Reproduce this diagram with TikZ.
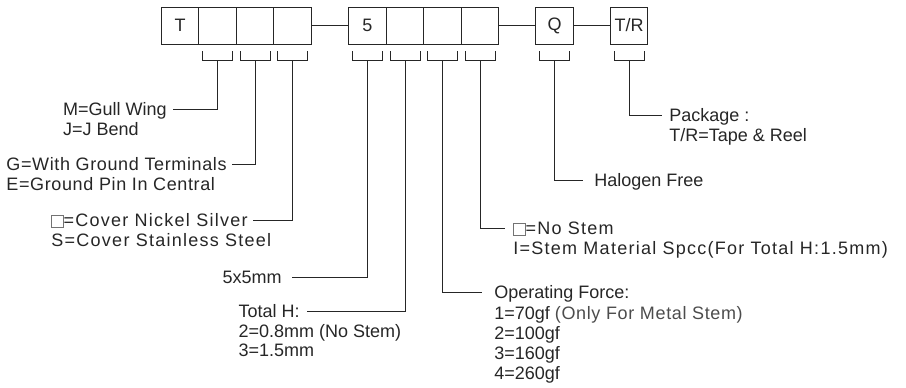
\documentclass[tikz,border=0pt]{standalone}
\usepackage{fontspec}
\setmainfont{Liberation Sans}
\newfontfamily\widefont{Liberation Sans}[LetterSpace=7]
\newfontfamily\halfwidefont{Liberation Sans}[LetterSpace=3.5]
\usetikzlibrary{positioning}
\newcommand\blankbox{{\color{black!55}\fboxsep=0pt\fboxrule=0.6pt\fbox{\rule{0pt}{11pt}\hspace{11pt}}}}
\tikzset{
  cell/.style={draw, minimum width=37.5pt, minimum height=37pt, inner sep=0pt, outer sep=0pt},
  lbl/.style={inner xsep=0pt, inner ysep=0pt, text height=13pt, text depth=0pt},
  sub/.style={inner sep=0pt, align=left, anchor=north west},
}
\begin{document}
\begin{tikzpicture}[x=1pt, y=-1pt, line width=0.8pt, color=black!85, font=\fontsize{18}{19}\selectfont]
  \useasboundingbox (0,0) rectangle (906,388);
  \node[cell] (b1) at (180,25.5) {T};
  \node[cell, right=0pt of b1] (b2) {};
  \node[cell, right=0pt of b2] (b3) {};
  \node[cell, right=0pt of b3] (b4) {};
  \node[cell, right=37.5pt of b4] (b5) {5};
  \node[cell, right=0pt of b5] (b6) {};
  \node[cell, right=0pt of b6] (b7) {};
  \node[cell, right=0pt of b7] (b8) {};
  \node[cell, right=37pt of b8] (bq) {Q};
  \node[cell, right=37pt of bq] (br) {T/R};
  \draw (b4) -- (b5);
  \draw (b8) -- (bq);
  \draw (bq) -- (br);
  \foreach \b in {b2,b3,b4,b5,b6,b7,b8,bq,br}{
    \draw ([shift={(-15,7)}]\b.south) -- ++(0,9) -- ++(30,0) -- ++(0,-9);
    \coordinate (k\b) at ([shift={(0,16)}]\b.south);
  }
  \node[lbl, anchor=east] (mw) at (167,109) {M=Gull Wing};
  \node[sub] (jb) at ([yshift=-6pt]mw.south west) {J=J Bend};
  \node[lbl, anchor=east] (gw) at (227,164) {\halfwidefont G=With Ground Terminals};
  \node[sub] (gp) at ([yshift=-6pt]gw.south west) {\halfwidefont E=Ground Pin In Central};
  \node[lbl, anchor=east] (cn) at (248,220) {\blankbox\widefont=Cover Nickel Silver};
  \node[sub] (cs) at ([yshift=-6pt]cn.south west) {\widefont S=Cover Stainless Steel};
  \node[lbl, anchor=east] (sz) at (282,277) {5x5mm};
  \node[lbl, anchor=east] (th) at (300,311) {Total H:};
  \node[sub] (tv) at ([yshift=-6pt]th.south west) {2=0.8mm (No Stem)\\3=1.5mm};
  \node[lbl, anchor=west] (pk) at (669,115) {Package :};
  \node[sub] (tr) at ([yshift=-6pt]pk.south west) {T/R=Tape \& Reel};
  \node[lbl, anchor=west] (hf) at (594,180) {Halogen Free};
  \node[lbl, anchor=west] (ns) at (513,228) {\blankbox\widefont=No Stem};
  \node[sub] (sm) at ([yshift=-6pt]ns.south west) {\widefont I=Stem Material Spcc(For Total H:1.5mm)};
  \node[lbl, anchor=west] (of) at (494,292) {Operating Force:};
  \node[sub, font=\fontsize{18}{20}\selectfont] (ov) at ([yshift=-7pt]of.south west)
    {1=70gf {\color{black!70}\halfwidefont(Only For Metal Stem)}\\2=100gf\\3=160gf\\4=260gf};
  \draw (kb2) |- ([xshift=6pt]mw.east);
  \draw (kb3) |- ([xshift=5pt]gw.east);
  \draw (kb4) |- ([xshift=5pt]cn.east);
  \draw (kb5) |- ([xshift=10pt]sz.east);
  \draw (kb6) |- ([xshift=7pt]th.east);
  \draw (kb7) |- ([xshift=-12pt]of.west);
  \draw (kb8) |- ([xshift=-8pt]ns.west);
  \draw (kbq) |- ([xshift=-11pt]hf.west);
  \draw (kbr) |- ([xshift=-7pt]pk.west);
\end{tikzpicture}
\end{document}
